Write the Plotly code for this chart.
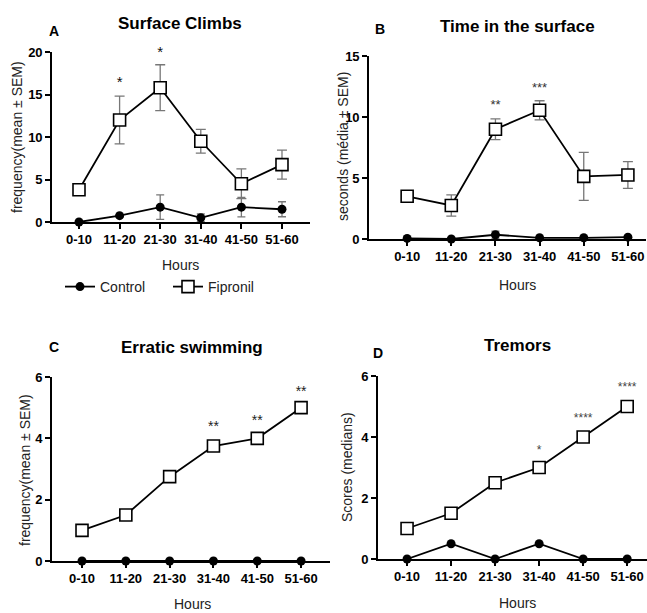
import plotly.graph_objects as go

W, H = 647, 613
hours = ["0-10", "11-20", "21-30", "31-40", "41-50", "51-60"]

# Panel A - Surface Climbs
a_fip = [3.8, 12.0, 15.8, 9.5, 4.5, 6.75]
a_fip_err = [0.6, 2.8, 2.7, 1.4, 1.75, 1.7]
a_ctl = [0.0, 0.75, 1.75, 0.5, 1.75, 1.5]
a_ctl_err = [0.0, 0.1, 1.45, 0.45, 1.15, 0.88]
a_sig_y = [16.3, 19.8]
a_sig_x = ["11-20", "21-30"]
a_sig_t = ["*", "*"]

# Panel B - Time in the surface
b_fip = [3.5, 2.75, 9.0, 10.55, 5.13, 5.25]
b_fip_err = [0.15, 0.87, 0.85, 0.78, 1.97, 1.1]
b_ctl = [0.05, 0.0, 0.35, 0.1, 0.1, 0.15]
b_ctl_err = [0.0, 0.0, 0.3, 0.0, 0.0, 0.0]
b_sig_y = [10.9, 12.3]
b_sig_x = ["21-30", "31-40"]
b_sig_t = ["**", "***"]

# Panel C - Erratic swimming
c_fip = [1.0, 1.5, 2.75, 3.75, 4.0, 5.0]
c_ctl = [0, 0, 0, 0, 0, 0]
c_sig_y = [4.35, 4.55, 5.5]
c_sig_x = ["31-40", "41-50", "51-60"]
c_sig_t = ["**", "**", "**"]

# Panel D - Tremors
d_fip = [1.0, 1.5, 2.5, 3.0, 4.0, 5.0]
d_ctl = [0, 0.5, 0, 0.5, 0, 0]
d_sig_y = [3.55, 4.6, 5.62]
d_sig_x = ["31-40", "41-50", "51-60"]
d_sig_t = ["*", "****", "****"]

FONT = "Liberation Sans, Arial, sans-serif"
fig = go.Figure()

panels = [
    ("", a_fip, a_fip_err, a_ctl, a_ctl_err, a_sig_x, a_sig_y, a_sig_t, 15, "#111111"),
    ("2", b_fip, b_fip_err, b_ctl, b_ctl_err, b_sig_x, b_sig_y, b_sig_t, 13, "#333333"),
    ("3", c_fip, None, c_ctl, None, c_sig_x, c_sig_y, c_sig_t, 14, "#222222"),
    ("4", d_fip, None, d_ctl, None, d_sig_x, d_sig_y, d_sig_t, 12, "#444444"),
]

for i, (s, fip, fe, ctl, ce, sx, sy, st, ssz, scol) in enumerate(panels):
    xa, ya = "x" + s, "y" + s
    fig.add_trace(go.Scatter(
        x=hours, y=ctl, xaxis=xa, yaxis=ya, mode="lines+markers", name="Control",
        line=dict(color="black", width=1.8),
        marker=dict(symbol="circle", size=9, color="black"),
        error_y=dict(type="data", array=ce, color="#777777", thickness=1.3, width=4) if ce else None,
        cliponaxis=False, showlegend=(i == 0)))
    fig.add_trace(go.Scatter(
        x=hours, y=fip, xaxis=xa, yaxis=ya, mode="lines+markers", name="Fipronil",
        line=dict(color="black", width=1.8),
        marker=dict(symbol="square", size=12, color="white", line=dict(color="black", width=1.6)),
        error_y=dict(type="data", array=fe, color="#777777", thickness=1.3, width=5) if fe else None,
        cliponaxis=False, showlegend=(i == 0)))
    fig.add_trace(go.Scatter(
        x=sx, y=sy, xaxis=xa, yaxis=ya, mode="text", text=st,
        textfont=dict(size=ssz, color=scol, family=FONT), showlegend=False,
        hoverinfo="skip", cliponaxis=False))

def px_x(p):
    return p / W

def px_y(p):
    return 1 - p / H

axis_common = dict(showline=True, linecolor="black", linewidth=1.6, ticks="outside",
                   tickcolor="black", tickwidth=1.6, ticklen=5, showgrid=False, zeroline=False,
                   automargin=False,
                   tickfont=dict(family=FONT, size=13, color="black", weight="bold"))

specs = [
    ("xaxis", "yaxis", "", 52, 310, 52, 222, [-0.665, 5.69], [0, 20], 5),
    ("xaxis2", "yaxis2", "2", 369, 646, 56, 239, [-0.864, 5.41], [0, 15], 5),
    ("xaxis3", "yaxis3", "3", 52, 330, 377, 561, [-0.685, 5.66], [0, 6], 2),
    ("xaxis4", "yaxis4", "4", 378, 647, 376, 559, [-0.66, 5.45], [0, 6], 2),
]
for xn, yn, s, x0, x1, yt, yb, xr, yr, dt in specs:
    fig.layout[xn] = dict(domain=[px_x(x0), px_x(x1)], anchor="y" + s, range=xr,
                          type="category", **axis_common)
    fig.layout[yn] = dict(domain=[px_y(yb), px_y(yt)], anchor="x" + s, range=yr,
                          dtick=dt, tick0=0, **axis_common)

ann = []
def txt(x, y, t, size, bold=False, angle=0, color="black"):
    ann.append(dict(x=px_x(x), y=px_y(y), xref="paper", yref="paper", text=t,
                    showarrow=False, textangle=angle, xanchor="center", yanchor="middle",
                    font=dict(family=FONT, size=size, color=color, weight="bold" if bold else "normal")))

txt(180, 24, "Surface Climbs", 17, True)
txt(517, 26, "Time in the surface", 17, True)
txt(192, 347, "Erratic swimming", 17, True)
txt(517, 345, "Tremors", 17, True)
txt(54, 31, "A", 14, True)
txt(380, 29, "B", 14, True)
txt(54, 347, "C", 14, True)
txt(378, 353, "D", 14, True)
txt(17, 137, "frequency(mean ± SEM)", 14, angle=-90, color="#222222")
txt(343, 147, "seconds (média ± SEM)", 14, angle=-90, color="#222222")
txt(25, 470, "frequency(mean ± SEM)", 14, angle=-90, color="#222222")
txt(347, 467, "Scores (medians)", 14, angle=-90, color="#222222")
txt(180, 265, "Hours", 14, color="#222222")
txt(517, 285, "Hours", 14, color="#222222")
txt(192, 604, "Hours", 14, color="#222222")
txt(517, 603, "Hours", 14, color="#222222")

fig.update_layout(
    width=W, height=H, margin=dict(l=0, r=0, t=0, b=0),
    paper_bgcolor="white", plot_bgcolor="white",
    annotations=ann,
    showlegend=True,
    legend=dict(orientation="h", x=px_x(60), y=px_y(287), xanchor="left", yanchor="middle",
                font=dict(family=FONT, size=14, color="#222222"),
                entrywidth=63, entrywidthmode="pixels", bgcolor="rgba(0,0,0,0)"),
)

fig.write_html("out.html", config={"displayModeBar": False},
               post_script="document.body.style.margin='0';document.body.style.overflow='hidden';")
